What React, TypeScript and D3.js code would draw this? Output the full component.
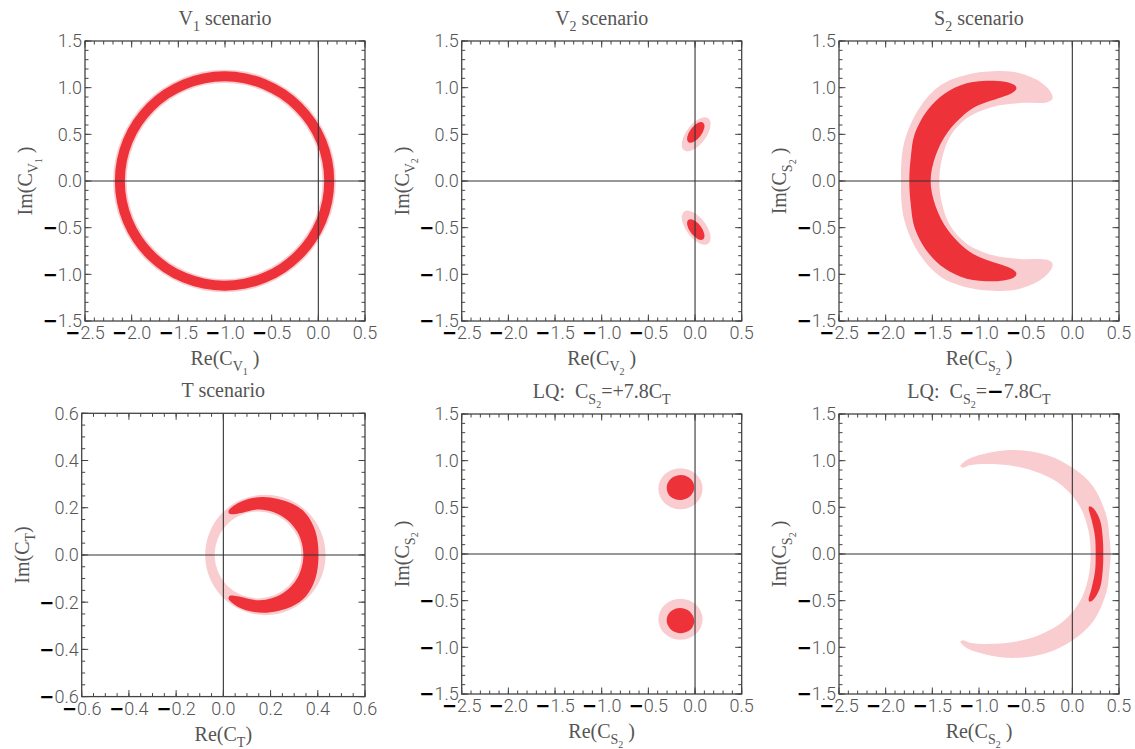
import React from 'react';
import * as d3 from 'd3';

type Pt = [number, number];

// ---------- tick labels ----------
const wideMajorTicksX = [-2.5, -2.0, -1.5, -1.0, -0.5, 0.0, 0.5];
const wideMajorTicksY = [-1.5, -1.0, -0.5, 0.0, 0.5, 1.0, 1.5];
const tMajorTicks = [-0.6, -0.4, -0.2, 0.0, 0.2, 0.4, 0.6];

// ---------- regions ----------
// rings: outer circle and inner hole  (cx, cy, r)
const v1RingLight = { outer: { cx: -1.005, cy: 0, r: 1.193 }, inner: { cx: -1.005, cy: 0, r: 1.05 } };
const v1RingDark = { outer: { cx: -1.005, cy: 0, r: 1.175 }, inner: { cx: -1.005, cy: 0, r: 1.068 } };
const tRingLight = { outer: { cx: 0.178, cy: 0, r: 0.255 }, inner: { cx: 0.147, cy: 0, r: 0.184 } };

// blobs: ellipses (cx, cy, rx, ry, angle in degrees)
const v2BlobsLight = [
  { cx: 0.012, cy: 0.5, rx: 0.215, ry: 0.105, angle: 53 },
  { cx: 0.012, cy: -0.5, rx: 0.215, ry: 0.105, angle: -53 },
];
const v2BlobsDark = [
  { cx: 0.008, cy: 0.52, rx: 0.13, ry: 0.063, angle: 53 },
  { cx: 0.008, cy: -0.52, rx: 0.13, ry: 0.063, angle: -53 },
];
const lqPlusBlobsLight = [
  { cx: -0.156, cy: 0.7, rx: 0.237, ry: 0.22, angle: 0 },
  { cx: -0.156, cy: -0.7, rx: 0.237, ry: 0.22, angle: 0 },
];
const lqPlusBlobsDark = [
  { cx: -0.156, cy: 0.712, rx: 0.148, ry: 0.134, angle: 10 },
  { cx: -0.156, cy: -0.714, rx: 0.148, ry: 0.134, angle: -10 },
];

// crescents: boundary points
const s2Light: Pt[] = [
  [-1.836, 0], [-1.8, 0.42], [-1.63, 0.796], [-1.405, 1.03], [-1.096, 1.146], [-0.75, 1.178],
  [-0.561, 1.154], [-0.346, 1.064], [-0.235, 0.96], [-0.212, 0.885], [-0.27, 0.845], [-0.561, 0.835],
  [-0.847, 0.796], [-1.132, 0.671], [-1.311, 0.475], [-1.4, 0.225], [-1.425, 0],
  [-1.4, -0.225], [-1.311, -0.475], [-1.132, -0.671], [-0.847, -0.796], [-0.561, -0.835], [-0.27, -0.845],
  [-0.212, -0.885], [-0.235, -0.96], [-0.346, -1.064], [-0.561, -1.154], [-0.75, -1.178], [-1.096, -1.146],
  [-1.405, -1.03], [-1.63, -0.796], [-1.8, -0.42],
];
const s2Dark: Pt[] = [
  [-1.747, 0], [-1.73, 0.26], [-1.69, 0.5], [-1.55, 0.761], [-1.37, 0.935], [-1.132, 1.047],
  [-0.847, 1.075], [-0.686, 1.056], [-0.61, 1.02], [-0.6, 0.985], [-0.65, 0.94], [-0.75, 0.9],
  [-0.93, 0.84], [-1.096, 0.761], [-1.33, 0.53], [-1.465, 0.27], [-1.518, 0],
  [-1.465, -0.27], [-1.33, -0.53], [-1.096, -0.761], [-0.93, -0.84], [-0.75, -0.9], [-0.65, -0.94],
  [-0.6, -0.985], [-0.61, -1.02], [-0.686, -1.056], [-0.847, -1.075], [-1.132, -1.047], [-1.37, -0.935],
  [-1.55, -0.761], [-1.69, -0.5], [-1.73, -0.26],
];
const lqMinusLight: Pt[] = [
  [0.411, 0], [0.395, 0.2], [0.368, 0.4], [0.225, 0.721], [0.011, 0.918], [-0.275, 1.061],
  [-0.632, 1.114], [-0.918, 1.079], [-1.132, 1.007], [-1.2, 0.94], [-1.17, 0.925], [-1.1, 0.95],
  [-0.918, 0.964], [-0.632, 0.943], [-0.346, 0.864], [-0.096, 0.721], [0.082, 0.507], [0.171, 0.257],
  [0.196, 0],
  [0.171, -0.257], [0.082, -0.507], [-0.096, -0.721], [-0.346, -0.864], [-0.632, -0.943], [-0.918, -0.964],
  [-1.1, -0.95], [-1.17, -0.925], [-1.2, -0.94], [-1.132, -1.007], [-0.918, -1.079], [-0.632, -1.114],
  [-0.275, -1.061], [0.011, -0.918], [0.225, -0.721], [0.368, -0.4], [0.395, -0.2],
];
const lqMinusDark: Pt[] = [
  [0.332, 0], [0.325, 0.186], [0.296, 0.364], [0.225, 0.489], [0.182, 0.51], [0.175, 0.49],
  [0.207, 0.364], [0.243, 0.186], [0.25, 0],
  [0.243, -0.186], [0.207, -0.364], [0.175, -0.49], [0.182, -0.51], [0.225, -0.489], [0.296, -0.364],
  [0.325, -0.186],
];
const tDark: Pt[] = [
  [0.403, 0], [0.39, 0.1], [0.35, 0.175], [0.29, 0.218], [0.17, 0.245], [0.084, 0.23], [0.042, 0.207],
  [0.022, 0.186], [0.026, 0.174], [0.06, 0.175], [0.155, 0.192], [0.25, 0.163], [0.315, 0.095], [0.339, 0],
  [0.315, -0.095], [0.25, -0.163], [0.155, -0.192], [0.06, -0.175], [0.026, -0.174], [0.022, -0.186],
  [0.042, -0.207], [0.084, -0.23], [0.17, -0.245], [0.29, -0.218], [0.35, -0.175], [0.39, -0.1],
];

// ---------- styling ----------
const DARK = '#EE3239';
const LIGHT = '#F9CDD0';
const TEXT = '#555';
const TICK_FONT = 'Roboto, "Liberation Sans", sans-serif';
const LABEL_FONT = '"Liberation Serif", "DejaVu Serif", serif';
const MINUS_FONT = '"DejaVu Sans", sans-serif';

type Seg = { t: string; l?: number; m?: boolean };

const panels = [
  {
    left: 85, top: 41, size: 280, xd: [-2.5, 0.5], yd: [-1.5, 1.5], xt: wideMajorTicksX, yt: wideMajorTicksY, minorCount: 30,
    title: [{ t: 'V' }, { t: '1', l: 1 }, { t: ' scenario' }] as Seg[],
    xl: [{ t: 'Re(C' }, { t: 'V', l: 1 }, { t: '1', l: 2 }, { t: ' )' }] as Seg[],
    yl: [{ t: 'Im(C' }, { t: 'V', l: 1 }, { t: '1', l: 2 }, { t: ' )' }] as Seg[],
    rings: [{ d: v1RingLight, c: LIGHT }, { d: v1RingDark, c: DARK }], blobs: [], polys: [],
  },
  {
    left: 461.7, top: 41, size: 280, xd: [-2.5, 0.5], yd: [-1.5, 1.5], xt: wideMajorTicksX, yt: wideMajorTicksY, minorCount: 30,
    title: [{ t: 'V' }, { t: '2', l: 1 }, { t: ' scenario' }] as Seg[],
    xl: [{ t: 'Re(C' }, { t: 'V', l: 1 }, { t: '2', l: 2 }, { t: ' )' }] as Seg[],
    yl: [{ t: 'Im(C' }, { t: 'V', l: 1 }, { t: '2', l: 2 }, { t: ' )' }] as Seg[],
    rings: [], blobs: [{ d: v2BlobsLight, c: LIGHT }, { d: v2BlobsDark, c: DARK }], polys: [],
  },
  {
    left: 839, top: 41, size: 280, xd: [-2.5, 0.5], yd: [-1.5, 1.5], xt: wideMajorTicksX, yt: wideMajorTicksY, minorCount: 30,
    title: [{ t: 'S' }, { t: '2', l: 1 }, { t: ' scenario' }] as Seg[],
    xl: [{ t: 'Re(C' }, { t: 'S', l: 1 }, { t: '2', l: 2 }, { t: ' )' }] as Seg[],
    yl: [{ t: 'Im(C' }, { t: 'S', l: 1 }, { t: '2', l: 2 }, { t: ' )' }] as Seg[],
    rings: [], blobs: [], polys: [{ d: s2Light, c: LIGHT }, { d: s2Dark, c: DARK }],
  },
  {
    left: 81.7, top: 413.3, size: 283.3, xd: [-0.6, 0.6], yd: [-0.6, 0.6], xt: tMajorTicks, yt: tMajorTicks, minorCount: 24,
    title: [{ t: 'T scenario' }] as Seg[],
    xl: [{ t: 'Re(C' }, { t: 'T', l: 1 }, { t: ')' }] as Seg[],
    yl: [{ t: 'Im(C' }, { t: 'T', l: 1 }, { t: ')' }] as Seg[],
    rings: [{ d: tRingLight, c: LIGHT }], blobs: [], polys: [{ d: tDark, c: DARK }],
  },
  {
    left: 461.7, top: 414, size: 280, xd: [-2.5, 0.5], yd: [-1.5, 1.5], xt: wideMajorTicksX, yt: wideMajorTicksY, minorCount: 30,
    title: [{ t: 'LQ:  C' }, { t: 'S', l: 1 }, { t: '2', l: 2 }, { t: '=+7.8C' }, { t: 'T', l: 1 }] as Seg[],
    xl: [{ t: 'Re(C' }, { t: 'S', l: 1 }, { t: '2', l: 2 }, { t: ' )' }] as Seg[],
    yl: [{ t: 'Im(C' }, { t: 'S', l: 1 }, { t: '2', l: 2 }, { t: ' )' }] as Seg[],
    rings: [], blobs: [{ d: lqPlusBlobsLight, c: LIGHT }, { d: lqPlusBlobsDark, c: DARK }], polys: [],
  },
  {
    left: 839, top: 414, size: 280, xd: [-2.5, 0.5], yd: [-1.5, 1.5], xt: wideMajorTicksX, yt: wideMajorTicksY, minorCount: 30,
    title: [{ t: 'LQ:  C' }, { t: 'S', l: 1 }, { t: '2', l: 2 }, { t: '=' }, { t: '\u2212', m: true }, { t: '7.8C' }, { t: 'T', l: 1 }] as Seg[],
    xl: [{ t: 'Re(C' }, { t: 'S', l: 1 }, { t: '2', l: 2 }, { t: ' )' }] as Seg[],
    yl: [{ t: 'Im(C' }, { t: 'S', l: 1 }, { t: '2', l: 2 }, { t: ' )' }] as Seg[],
    rings: [], blobs: [], polys: [{ d: lqMinusLight, c: LIGHT }, { d: lqMinusDark, c: DARK }],
  },
];

function Rich({ segs, size, ...rest }: any) {
  const offs = [0, size * 0.3, size * 0.48];
  const sizes = [size, size * 0.7, size * 0.5];
  let prev = 0;
  return (
    <text {...rest} fontSize={size} fontFamily={LABEL_FONT} fill={TEXT} style={{ whiteSpace: 'pre' }}>
      {segs.map((s: Seg, i: number) => {
        const lvl = s.l || 0;
        const dy = offs[lvl] - prev;
        prev = offs[lvl];
        return (
          <tspan key={i} dy={dy} fontSize={sizes[lvl]} fill={s.m ? '#000' : TEXT}
            fontFamily={s.m ? MINUS_FONT : undefined} fontWeight={s.m ? 'bold' : 'normal'}>
            {s.t}
          </tspan>
        );
      })}
    </text>
  );
}

const fmt = d3.format('.1f');

function TickText({ v, ...rest }: any) {
  return (
    <text {...rest} fontFamily={TICK_FONT} fontSize={18} fontWeight={300} fill={TEXT}>
      {v < -1e-9 ? <tspan fill="#000" fontFamily={MINUS_FONT} fontWeight="bold">{'\u2212'}</tspan> : null}
      <tspan>{fmt(Math.abs(v))}</tspan>
    </text>
  );
}

function Panel({ p }: any) {
  const x = d3.scaleLinear().domain(p.xd).range([p.left, p.left + p.size]);
  const y = d3.scaleLinear().domain(p.yd).range([p.top + p.size, p.top]);
  const k = x(1) - x(0);
  const L = p.left, R = p.left + p.size, T = p.top, B = p.top + p.size;
  const line = d3.line<Pt>().x(d => x(d[0])).y(d => y(d[1])).curve(d3.curveCatmullRomClosed.alpha(0.5));
  const ringPath = (ring: any) => {
    const path = d3.path();
    for (const c of [ring.outer, ring.inner]) {
      path.moveTo(x(c.cx) + c.r * k, y(c.cy));
      path.arc(x(c.cx), y(c.cy), c.r * k, 0, 2 * Math.PI);
      path.closePath();
    }
    return path.toString();
  };
  const minorX = x.ticks(p.minorCount);
  const minorY = y.ticks(p.minorCount);
  const cx = (L + R) / 2, cy = (T + B) / 2;
  return (
    <g>
      {p.rings.map((r: any, i: number) => (
        <path key={'r' + i} d={ringPath(r.d)} fill={r.c} fillRule="evenodd" />
      ))}
      {p.blobs.map((b: any, i: number) =>
        b.d.map((e: any, j: number) => (
          <ellipse key={'b' + i + j} cx={x(e.cx)} cy={y(e.cy)} rx={e.rx * k} ry={e.ry * k}
            transform={`rotate(${-e.angle} ${x(e.cx)} ${y(e.cy)})`} fill={b.c} />
        ))
      )}
      {p.polys.map((q: any, i: number) => (
        <path key={'p' + i} d={line(q.d) || ''} fill={q.c} />
      ))}
      <line x1={x(0)} x2={x(0)} y1={T} y2={B} stroke="#333" strokeWidth={1.1} />
      <line x1={L} x2={R} y1={y(0)} y2={y(0)} stroke="#333" strokeWidth={1.1} />
      {minorX.map((v: number, i: number) => (
        <g key={'mx' + i}>
          <line x1={x(v)} x2={x(v)} y1={B} y2={B - 3.5} stroke="#444" strokeWidth={1} />
          <line x1={x(v)} x2={x(v)} y1={T} y2={T + 3.5} stroke="#444" strokeWidth={1} />
        </g>
      ))}
      {minorY.map((v: number, i: number) => (
        <g key={'my' + i}>
          <line x1={L} x2={L + 3.5} y1={y(v)} y2={y(v)} stroke="#444" strokeWidth={1} />
          <line x1={R} x2={R - 3.5} y1={y(v)} y2={y(v)} stroke="#444" strokeWidth={1} />
        </g>
      ))}
      {p.xt.map((v: number, i: number) => (
        <g key={'Mx' + i}>
          <line x1={x(v)} x2={x(v)} y1={B} y2={B - 6.5} stroke="#444" strokeWidth={1} />
          <line x1={x(v)} x2={x(v)} y1={T} y2={T + 6.5} stroke="#444" strokeWidth={1} />
          <TickText v={v} x={x(v)} y={B + 18} textAnchor="middle" />
        </g>
      ))}
      {p.yt.map((v: number, i: number) => (
        <g key={'My' + i}>
          <line x1={L} x2={L + 6.5} y1={y(v)} y2={y(v)} stroke="#444" strokeWidth={1} />
          <line x1={R} x2={R - 6.5} y1={y(v)} y2={y(v)} stroke="#444" strokeWidth={1} />
          <TickText v={v} x={L - 3} y={y(v)} dy="0.36em" textAnchor="end" />
        </g>
      ))}
      <rect x={L} y={T} width={p.size} height={p.size} fill="none" stroke="#444" strokeWidth={1.3} />
      <Rich segs={p.title} size={20} x={cx} y={T - 16} textAnchor="middle" />
      <Rich segs={p.xl} size={20} x={cx} y={B + 44} textAnchor="middle" />
      <Rich segs={p.yl} size={20} transform={`translate(${L - 53},${cy}) rotate(-90)`} textAnchor="middle" />
    </g>
  );
}

export default function App() {
  return (
    <svg width={1135} height={749} style={{ position: 'absolute', left: 0, top: 0, background: '#fff' }}>
      <rect width={1135} height={749} fill="#fff" />
      {panels.map((p, i) => (
        <Panel key={i} p={p} />
      ))}
    </svg>
  );
}
